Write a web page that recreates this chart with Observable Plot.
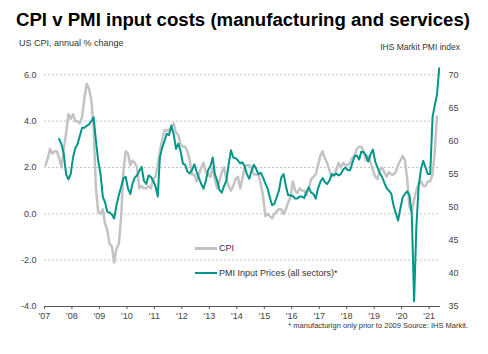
<!DOCTYPE html>
<html><head><meta charset="utf-8">
<script src="https://cdn.jsdelivr.net/npm/d3@7"></script>
<script src="https://cdn.jsdelivr.net/npm/@observablehq/plot@0.6"></script>
<style>
body{margin:0;background:#fff;font-family:"Liberation Sans",Arial,sans-serif;}
#wrap{position:relative;width:488px;height:354px;overflow:hidden;background:#fff}
#chart{position:absolute;left:0;top:0}
.t{position:absolute;white-space:nowrap;line-height:1}
.sw{position:absolute;height:2.5px}
</style></head><body>
<div id="wrap">
<div id="chart"></div>
<div class="t" id="title" style="left:16px;top:11px;font-size:18px;font-weight:bold;color:#000">CPI v PMI input costs (manufacturing and services)</div>
<div class="t" style="left:19px;top:39px;font-size:9px;color:#333">US CPI, annual % change</div>
<div class="t" style="right:28px;top:43px;font-size:8.5px;color:#333">IHS Markit PMI index</div>
<div class="t" style="right:20px;top:322px;font-size:7.5px;color:#333">* manufacturign only prior to 2009 Source: IHS Markit.</div>
<div class="sw" style="left:195px;top:247px;width:22px;background:#c3c3c3"></div>
<div class="t" style="left:219px;top:244px;font-size:9px;color:#333">CPI</div>
<div class="sw" style="left:195px;top:271.5px;width:22px;background:#00968a"></div>
<div class="t" style="left:219px;top:268.5px;font-size:9px;color:#333">PMI Input Prices (all sectors)*</div>
</div>
<script>
// US CPI, annual % change, monthly from Jan 2007
const cpiStart = [2007, 0];
const cpiValues = [
  2.1,2.4,2.8,2.6,2.7,2.7,2.4,2.0,2.8,3.5,4.3,4.1,
  4.3,4.0,4.0,3.9,4.2,5.0,5.6,5.4,4.9,3.7,1.1,0.1,
  0.0,0.2,-0.4,-0.7,-1.3,-1.4,-2.1,-1.5,-1.3,-0.2,1.8,2.7,
  2.6,2.1,2.3,2.2,2.0,1.1,1.2,1.1,1.1,1.2,1.1,1.5,
  1.6,2.1,2.7,3.2,3.6,3.6,3.6,3.8,3.9,3.5,3.4,3.0,
  2.9,2.9,2.7,2.3,1.7,1.7,1.4,1.7,2.0,2.2,1.8,1.7,
  1.6,2.0,1.5,1.1,1.4,1.8,2.0,1.5,1.2,1.0,1.2,1.5,
  1.6,1.1,1.5,2.0,2.1,2.1,2.0,1.7,1.7,1.7,1.3,0.8,
  -0.1,0.0,-0.1,-0.2,0.0,0.1,0.2,0.2,0.0,0.2,0.5,0.7,
  1.4,1.0,0.9,1.1,1.0,1.0,0.8,1.1,1.5,1.6,1.7,2.1,
  2.5,2.7,2.4,2.2,1.9,1.6,1.7,1.9,2.2,2.0,2.2,2.1,
  2.1,2.2,2.4,2.5,2.8,2.9,2.9,2.7,2.3,2.5,2.2,1.9,
  1.6,1.5,1.9,2.0,1.8,1.6,1.8,1.7,1.7,1.8,2.1,2.3,
  2.5,2.3,1.5,0.3,0.1,0.6,1.0,1.3,1.4,1.2,1.2,1.4,
  1.4,1.7,2.6,4.2
];
// IHS Markit PMI input prices index, monthly from Jul 2007
const pmiStart = [2007, 6];
const pmiValues = [
  60.3,59.5,58.0,55.0,54.2,55.0,57.5,58.9,59.5,60.8,
  62.0,62.0,62.3,62.5,63.0,63.6,60.0,57.0,55.0,51.5,
  50.8,49.3,49.2,48.9,48.3,50.3,51.8,53.0,54.4,54.6,
  52.8,52.0,53.5,54.5,54.8,55.5,56.1,54.0,53.5,54.8,
  54.6,54.0,53.2,51.6,57.5,59.0,60.0,61.1,60.9,62.3,
  61.0,58.8,59.6,58.5,56.6,56.4,55.4,55.1,55.6,56.5,
  55.4,54.4,53.5,52.8,54.0,55.6,56.2,57.5,55.0,54.0,
  52.6,52.2,53.2,54.0,56.5,58.6,57.5,57.4,57.1,56.6,
  56.8,56.2,55.0,54.3,55.5,56.4,55.8,55.0,55.2,54.5,
  53.6,52.8,51.5,50.3,50.5,51.5,52.5,54.5,55.0,53.2,
  51.8,51.8,51.7,51.3,51.3,51.6,51.6,51.4,52.3,53.0,
  52.2,52.0,51.3,52.8,53.8,54.4,53.8,53.5,54.0,55.0,
  54.8,55.1,54.8,55.0,55.7,56.0,55.6,55.6,56.6,57.7,
  57.8,57.2,58.4,58.3,57.8,56.9,58.0,58.7,56.9,56.0,
  55.2,54.6,53.7,52.9,52.5,52.1,50.3,49.1,48.0,49.8,
  51.5,52.0,52.4,51.8,48.9,35.8,47.0,53.2,55.8,57.0,
  56.0,55.0,55.0,63.6,65.3,67.0,71.0
];
const leftTicks = [6, 4, 2, 0, -2, -4];
const rightTicks = [70, 65, 60, 55, 50, 45, 40, 35];
const yearTicks = d3.range(2007, 2022);

const yDomain = [-4, 6.1];
const pmiDomain = [35, 70.35];
const toLeft = p => yDomain[0] + (p - pmiDomain[0]) * (yDomain[1] - yDomain[0]) / (pmiDomain[1] - pmiDomain[0]);

const cpi = cpiValues.map((v, i) => ({date: new Date(Date.UTC(cpiStart[0], cpiStart[1] + i, 15)), v}));
const pmi = pmiValues.map((p, i) => ({date: new Date(Date.UTC(pmiStart[0], pmiStart[1] + i, 15)), v: toLeft(p)}));
const xTicks = yearTicks.map(y => new Date(Date.UTC(y, 0, 1)));
const xDomain = [new Date(Date.UTC(2007, 0, 1)), new Date(Date.UTC(2021, 5, 1))];

const chart = Plot.plot({
  width: 488, height: 354,
  marginLeft: 44, marginRight: 48, marginTop: 72, marginBottom: 48,
  style: {fontFamily: "Liberation Sans, Arial, sans-serif", fontSize: "9px", color: "#444", background: "transparent", overflow: "visible"},
  x: {type: "utc", domain: xDomain},
  y: {domain: yDomain},
  marks: [
    Plot.ruleY(leftTicks.filter(d => d > -4), {stroke: "#c4c4c4", strokeDasharray: "2,2", strokeWidth: 1}),
    Plot.axisY(leftTicks, {anchor: "left", tickSize: 0, tickPadding: 8, tickFormat: d => d.toFixed(1), label: null, fill: "#444"}),
    Plot.text(rightTicks, {y: d => toLeft(d), text: d => String(d), frameAnchor: "right", textAnchor: "start", dx: 8, fill: "#444"}),
    Plot.axisX(xTicks, {anchor: "bottom", tickSize: 3, tickPadding: 3, tickFormat: d => "'" + String(d.getUTCFullYear()).slice(2), label: null, stroke: "#555", fill: "#444"}),
    Plot.ruleY([-4], {stroke: "#555", strokeWidth: 1}),
    Plot.line(cpi, {x: "date", y: "v", stroke: "#c3c3c3", strokeWidth: 2.5}),
    Plot.line(pmi, {x: "date", y: "v", stroke: "#00968a", strokeWidth: 2})
  ]
});
document.getElementById("chart").appendChild(chart);
// fit the title to the reference width (454px)
const title = document.getElementById("title");
const w = title.getBoundingClientRect().width;
if (w > 0) title.style.fontSize = (18 * 454 / w).toFixed(2) + "px";
</script>
</body></html>
